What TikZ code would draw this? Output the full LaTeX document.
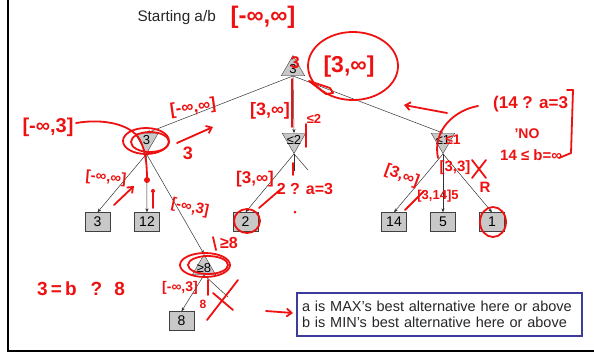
\documentclass[tikz,border=0pt]{standalone}
\usepackage{fontspec}
\setmainfont{Liberation Sans}
\usetikzlibrary{arrows.meta,shapes.geometric}
\definecolor{pen}{HTML}{EE1111}
\definecolor{nodefill}{HTML}{C8C8C8}
\definecolor{keyblue}{HTML}{3C3C9C}
\newcommand{\zw}[1]{\makebox[0pt]{#1}}
\newcommand{\fs}[1]{\fontsize{#1}{#1}\selectfont}

\begin{document}
\begin{tikzpicture}[
  x=1pt,y=-1pt,
  maxnode/.style={regular polygon,regular polygon sides=3,minimum size=27pt,inner sep=0pt,draw=black!75,fill=nodefill,font=\fs{13}},
  minnode/.style={maxnode,shape border rotate=180},
  leaf/.style={draw=black!75,fill=nodefill,minimum width=25pt,minimum height=19pt,inner sep=0pt,font=\fs{14}},
  edge/.style={-{Stealth[length=4pt,width=3.2pt]},draw=black!80,line width=0.5pt},
  cut/.style={draw=black!80,line width=0.5pt},
  ink/.style={draw=pen,line width=1.8pt,line cap=round,line join=round},
  inkarr/.style={ink,-{Straight Barb[length=5pt,width=8pt]}},
  note/.style={text=pen,inner sep=0pt,font=\bfseries\fs{#1}},
  note/.default=14
]
\useasboundingbox (0,0) rectangle (594,354);
\draw[line width=2pt] (7.5,0) -- (7.5,351) -- (594,351);

\node[anchor=west,font=\fs{15.3},text=black!85] (start) at (134,18) {Starting a/b};

% game tree
\node[maxnode] (root) at (293,69) {\zw{3}};
\node[minnode] (m1) at (146.5,140) {\zw{3}};
\node[minnode] (m2) at (294,140) {\zw{≤2}};
\node[minnode] (m3) at (443,140) {\zw{≤1}};
\node[maxnode] (x8) at (204,268) {\zw{≥8}};
\node[leaf] (l3) at (97.5,222) {3};
\node[leaf] (l12) at (147,222) {12};
\node[leaf] (l2) at (245.5,222) {2};
\node[leaf] (l14) at (394,222) {14};
\node[leaf] (l5) at (443,222) {5};
\node[leaf] (l1) at (492,222) {1};
\node[leaf] (l8) at (181.5,321) {8};
\coordinate (p2a) at (294,171);
\coordinate (p2b) at (308,170);
\coordinate (p8) at (228,297);

\draw[edge] (root.side 2) -- (m1.side 2);
\draw[edge] (root.side 2) -- (m2.side 2);
\draw[edge] (root.side 2) -- (m3.side 2);
\draw[edge] (m1.corner 1) -- (l3.north);
\draw[edge] (m1.corner 1) -- (l12.north);
\draw[edge] (m1.corner 1) -- (x8.corner 1);
\draw[edge] (m2.corner 1) -- (l2.north);
\draw[cut] (m2.corner 1) -- (p2a);
\draw[cut] (m2.corner 1) -- (p2b);
\draw[edge] (m3.corner 1) -- (l14.north);
\draw[edge] (m3.corner 1) -- (l5.north);
\draw[edge] (m3.corner 1) -- (l1.north);
\draw[edge] (x8.side 2) -- (l8.north);
\draw[cut] (x8.side 2) -- (p8);

\node[draw=keyblue,line width=1.3pt,text width=275pt,align=left,inner xsep=5pt,minimum height=43pt,font=\fontsize{14.5}{16}\selectfont,text=black!85] (key) at (439.5,314.5)
  {a is MAX’s best alternative here or above\\b is MIN’s best alternative here or above};

% pen notes
\node[note=24] (ab0) at (263,17) {[-∞,∞]};
\node[note=17] (r3) at (295,63) {3};
\draw[ink] (353,66) ellipse [x radius=45,y radius=34];
\node[note=23] (ab1) at (349,67) {[3,∞]};
\draw[ink] (309,81) -- (330,88) -- (333,93) -- (326,94) -- cycle;
\node[note=17,rotate=8] (ab2) at (193,108) {[-∞,∞]};
\node[note=18] (ab3) at (270,111) {[3,∞]};
\draw[ink] (292,79) -- (292,127);
\node[note=13] (le2) at (314,119) {≤2};
\draw[ink] (306,124) -- (306,147);

\node[note=20] (ab4) at (48,127) {[-∞,3]};
\draw[ink] (76,123) .. controls (105,118) and (132,125) .. (140,140) .. controls (146,152) and (147,166) .. (147,179);
\fill[pen] (147,180) circle (3);
\draw[ink] (146,141) ellipse [x radius=23,y radius=13];
\draw[ink] (150,142) ellipse [x radius=19,y radius=10];
\draw[inkarr] (177,143) -- (213,127);
\node[note=18] (r3c) at (188,153) {3};
\node[note=15,rotate=-5] (ab5) at (106,178) {[-∞,∞]};
\draw[inkarr] (114,205) -- (134,186);
\fill[pen] (153,191) circle (2);
\draw[ink] (153,193) -- (153,208);
\node[note=15,rotate=-12] (ab6) at (190,208) {[-∞,3]};

\node[note=17] (ab7) at (255,179) {[3,∞]};
\draw[ink] (247,221) ellipse [x radius=13,y radius=12];
\draw[ink] (259,208) -- (281,189);
\node[note=16] (q0) at (305,189) {2 ? a=3};
\draw[ink] (293,163) -- (293,175);
\fill[pen] (295,212) circle (1.5);

\draw[inkarr] (447,113) -- (404,105);
\draw[ink] (478,106) .. controls (455,110) and (432,130) .. (438,158);
\node[note=14] (le1) at (453,140) {≤1};
\node[note=16,rotate=-20] (ab8) at (402,176) {[3,∞]};
\node[note=15] (ab9) at (455,168) {[3,3]};
\draw[ink] (472,160) -- (486,178);
\draw[ink] (486,160) -- (472,178);
\node[note=13] (ab10) at (438,196) {[3,14]5};
\draw[ink] (405,210) -- (424,191);
\node[note=15] (rr) at (485,187) {R};
\draw[ink] (493,222) ellipse [x radius=13,y radius=15];
\node[note=17,anchor=west] (q1) at (493,104) {(14 ? a=3};
\node[note=14] (q2) at (527,134) {’NO};
\node[note=15,anchor=west] (q3) at (500,155) {14 ≤ b=∞};
\draw[ink] (567,90) -- (573,90) -- (571,153) -- (559,158);

\node[note=16] (le3) at (229,243) {≥8};
\draw[ink] (213,237) -- (216,250);
\draw[ink] (205,265) ellipse [x radius=25,y radius=12];
\draw[ink] (208,265) ellipse [x radius=20,y radius=9];
\node[note=14] (ab11) at (180,288) {[-∞,3]};
\draw[ink] (208,280) -- (208,295);
\node[note=12] (r8) at (203,304) {8};
\draw[ink] (207,320) -- (238,280);
\draw[ink] (213,293) -- (233,310);
\node[note=19] (q4) at (81,289) {3\,=\,b\hspace{14pt}?\hspace{12pt}8};
\draw[inkarr] (266,311) -- (293,313);
\end{tikzpicture}
\end{document}
